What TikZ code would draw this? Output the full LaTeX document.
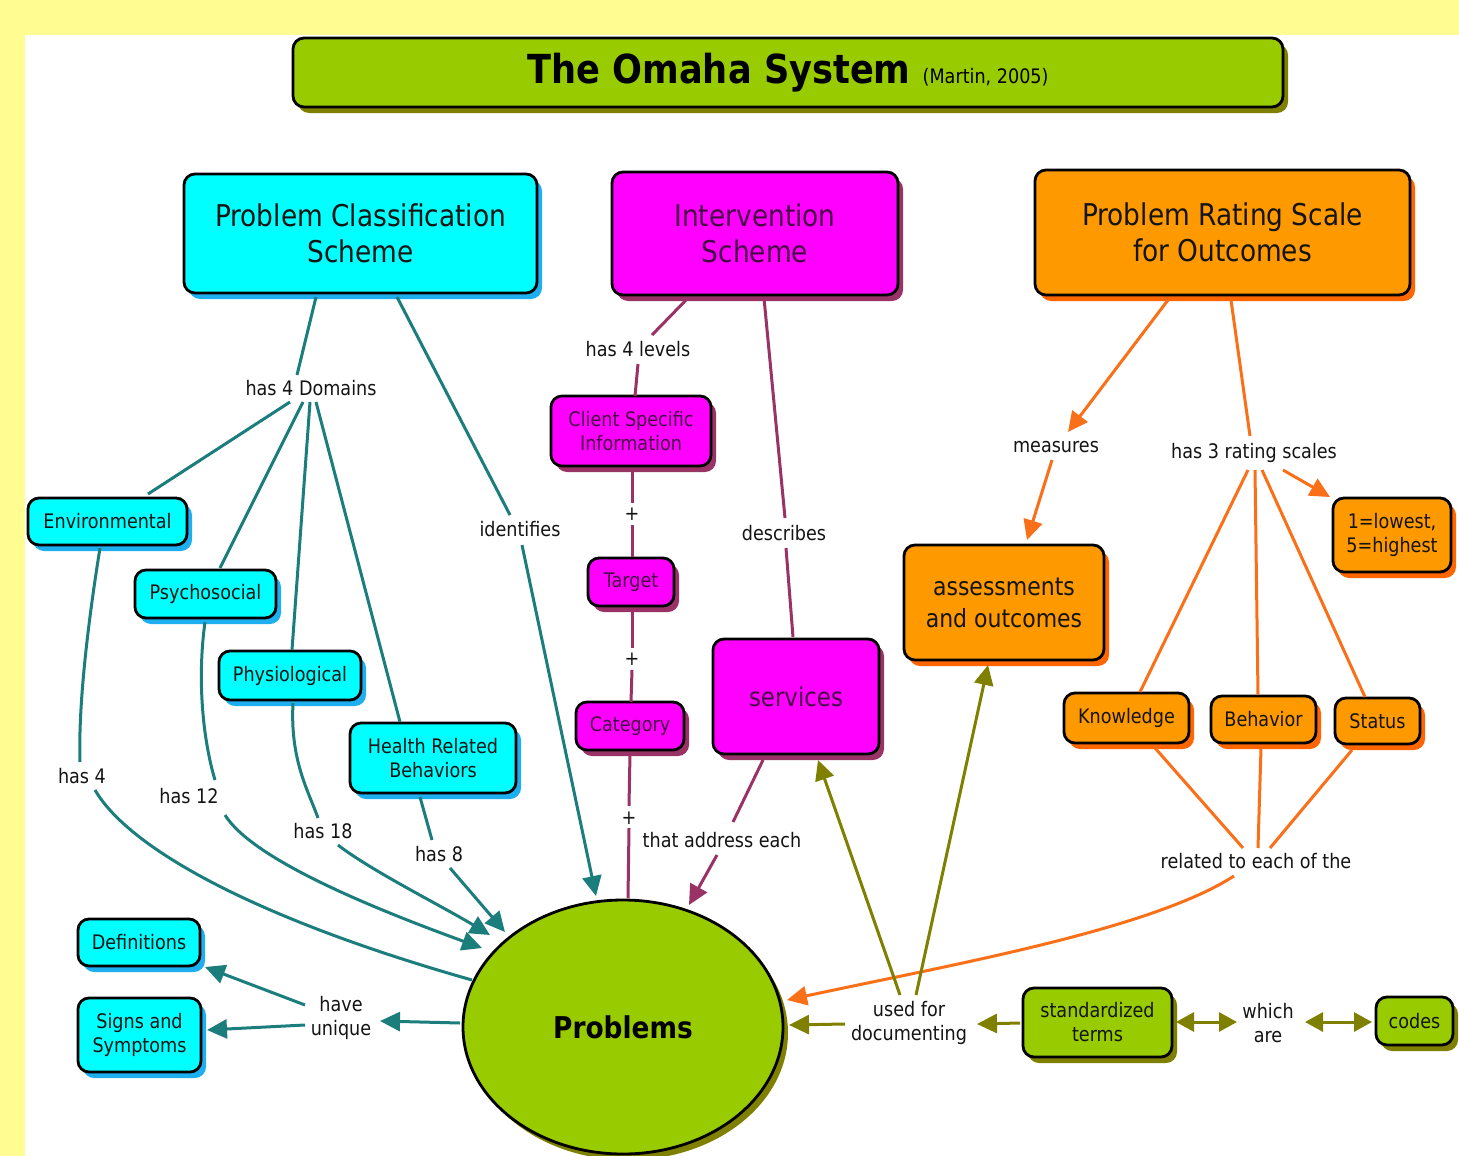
\documentclass[tikz,border=0pt]{standalone}
\usepackage{fontspec}
\setmainfont{DejaVu Sans}[FakeStretch=0.88]
\usetikzlibrary{arrows.meta,shadows,shapes.geometric}
\definecolor{bgyellow}{RGB}{255,252,145}
\definecolor{cyanfill}{RGB}{0,255,255}
\definecolor{cyanshadow}{RGB}{30,175,240}
\definecolor{magfill}{RGB}{255,0,255}
\definecolor{magshadow}{RGB}{153,51,102}
\definecolor{magtext}{RGB}{70,10,70}
\definecolor{orfill}{RGB}{255,153,0}
\definecolor{orshadow}{RGB}{255,102,0}
\definecolor{grfill}{RGB}{153,204,0}
\definecolor{grshadow}{RGB}{128,128,0}
\definecolor{tealline}{RGB}{28,125,125}
\definecolor{magline}{RGB}{153,51,102}
\definecolor{orline}{RGB}{250,112,25}
\definecolor{olline}{RGB}{128,128,0}
\definecolor{boxtext}{RGB}{20,20,20}
\newcommand\fBigT{\fontsize{30}{36}\selectfont}
\newcommand\fSmT{\fontsize{20}{24}\selectfont}
\begin{document}
\begin{tikzpicture}[x=1pt,y=-1pt,
  box/.style={draw=black, line width=2.8pt, rounded corners=11pt, inner sep=0pt, align=center, text=boxtext},
  cbox/.style={box, fill=cyanfill, drop shadow={shadow xshift=5pt, shadow yshift=-6pt, fill=cyanshadow, opacity=1}},
  mbox/.style={box, fill=magfill, text=magtext, drop shadow={shadow xshift=5pt, shadow yshift=-6pt, fill=magshadow, opacity=1}},
  obox/.style={box, fill=orfill, drop shadow={shadow xshift=5pt, shadow yshift=-6pt, fill=orshadow, opacity=1}},
  gbox/.style={box, fill=grfill, drop shadow={shadow xshift=5pt, shadow yshift=-6pt, fill=grshadow, opacity=1}},
  lbl/.style={font=\fSmT, align=center, inner sep=0pt, text=boxtext},
  tl/.style={draw=tealline, line width=3pt},
  ml/.style={draw=magline, line width=3pt},
  orl/.style={draw=orline, line width=3pt},
  gl/.style={draw=olline, line width=3pt},
  arr/.style={-{Triangle[length=20pt,width=19pt]}},
  darr/.style={{Triangle[length=18pt,width=19pt]}-{Triangle[length=18pt,width=19pt]}},
]
\useasboundingbox (0,0) rectangle (1459,1156);
\fill[bgyellow] (0,0) rectangle (1459,1156);
\fill[white] (25,35) rectangle (1459,1156);

% title
\node[gbox, text=black, minimum width=990pt, minimum height=69pt] (title) at (788,72.5)
  {{\bfseries\fontsize{40}{48}\selectfont The Omaha System}\hspace{12pt}{\fontsize{20}{24}\selectfont (Martin, 2005)}};

% main boxes
\node[cbox, font=\fBigT, minimum width=353pt, minimum height=119pt] (pcs) at (360.5,233.5) {Problem Classification\\Scheme};
\node[mbox, font=\fBigT, minimum width=286pt, minimum height=123pt] (is) at (755,233.5) {Intervention\\Scheme};
\node[obox, font=\fBigT, minimum width=375pt, minimum height=125pt] (prs) at (1222.5,232.5) {Problem Rating Scale\\for Outcomes};

% cyan small boxes
\node[cbox, font=\fSmT, minimum width=159pt, minimum height=47pt] (env) at (107.5,521.5) {Environmental};
\node[cbox, font=\fSmT, minimum width=141pt, minimum height=48pt] (psy) at (205.5,594) {Psychosocial};
\node[cbox, font=\fSmT, minimum width=142pt, minimum height=49pt] (phy) at (290,675.5) {Physiological};
\node[cbox, font=\fSmT, minimum width=166pt, minimum height=70pt] (hrb) at (433,758) {Health Related\\Behaviors};
\node[cbox, font=\fSmT, minimum width=122pt, minimum height=47pt] (def) at (139,942.5) {Definitions};
\node[cbox, font=\fSmT, minimum width=123pt, minimum height=74pt] (sig) at (139.5,1035) {Signs and\\Symptoms};

% magenta boxes
\node[mbox, font=\fSmT, minimum width=160pt, minimum height=70pt] (csi) at (631,431) {Client Specific\\Information};
\node[mbox, font=\fSmT, minimum width=86pt, minimum height=48pt] (tgt) at (631,582) {Target};
\node[mbox, font=\fSmT, minimum width=108pt, minimum height=48pt] (cat) at (630,726) {Category};
\node[mbox, font=\fontsize{26}{31}\selectfont, minimum width=166pt, minimum height=115pt] (srv) at (796,696.5) {services};

% orange boxes
\node[obox, font=\fontsize{25}{32}\selectfont, minimum width=200pt, minimum height=115pt] (ass) at (1004,602.5) {assessments\\and outcomes};
\node[obox, font=\fSmT, minimum width=118pt, minimum height=74pt] (low) at (1392,535) {1=lowest,\\5=highest};
\node[obox, font=\fSmT, minimum width=125pt, minimum height=50pt] (kno) at (1126.5,718) {Knowledge};
\node[obox, font=\fSmT, minimum width=105pt, minimum height=47pt] (beh) at (1263.5,719.5) {Behavior};
\node[obox, font=\fSmT, minimum width=85pt, minimum height=46pt] (sta) at (1377.5,721) {Status};

% green
\node[ellipse, draw=black, line width=2.8pt, fill=grfill, minimum width=320pt, minimum height=254pt, inner sep=0pt,
  drop shadow={shadow xshift=5pt, shadow yshift=-6pt, fill=grshadow, opacity=1}] (prob) at (623,1027)
  {\bfseries\fBigT Problems};
\node[gbox, font=\fSmT, minimum width=149pt, minimum height=69pt] (std) at (1097.5,1022.5) {standardized\\terms};
\node[gbox, font=\fSmT, minimum width=77pt, minimum height=48pt] (cod) at (1414.5,1021) {codes};

% labels
\node[lbl] (h4d) at (311,388) {has 4 Domains};
\node[lbl] (idf) at (520,529) {identifies};
\node[lbl] (h4l) at (638,349) {has 4 levels};
\node[lbl] (pa) at (632,514) {+};
\node[lbl] (pb) at (632,659) {+};
\node[lbl] (pc) at (629,818) {+};
\node[lbl] (dsc) at (784,533) {describes};
\node[lbl] (tae) at (722,840) {that address each};
\node[lbl] (mea) at (1056,447) {measures};
\node[lbl] (h3r) at (1254,453) {has 3 rating scales};
\node[lbl] (rel) at (1256,861) {related to each of the};
\node[lbl] (h4) at (82,776) {has 4};
\node[lbl] (h12) at (189,796) {has 12};
\node[lbl] (h18) at (323,831) {has 18};
\node[lbl] (h8) at (439,854) {has 8};
\node[lbl] (hu) at (341,1018) {have\\unique};
\node[lbl] (ufd) at (909,1023) {used for\\documenting};
\node[lbl] (wa) at (1268,1023) {which\\are};

% teal connectors
\draw[tl] ([shift={(-44.5,63.5)}]pcs.center) -- ([shift={(-14,-13)}]h4d.center);
\draw[tl] ([shift={(-21,14)}]h4d.center) -- ([shift={(40.5,-27.5)}]env.center);
\draw[tl] ([shift={(-8,14)}]h4d.center) -- ([shift={(14.5,-26)}]psy.center);
\draw[tl] ([shift={(-1,14)}]h4d.center) -- ([shift={(2,-25.5)}]phy.center);
\draw[tl] ([shift={(5,14)}]h4d.center) -- ([shift={(-33,-36)}]hrb.center);
\draw[tl] ([shift={(36.5,63.5)}]pcs.center) -- ([shift={(-10,-14)}]idf.center);
\draw[tl,arr] ([shift={(2,16)}]idf.center) -- ([shift={(-27,-131)}]prob.center);
\draw[tl] ([shift={(-7.5,26.5)}]env.center) .. controls (90,610) and (78,700) .. ([shift={(-2,-14)}]h4.center);
\draw[tl] ([shift={(13,14)}]h4.center) .. controls (130,850) and (260,920) .. ([shift={(-151,-47)}]prob.center);
\draw[tl] ([shift={(-0.5,28)}]psy.center) .. controls (197,680) and (203,740) .. ([shift={(26,-16)}]h12.center);
\draw[tl,arr] ([shift={(36,19)}]h12.center) .. controls (250,855) and (350,900) .. ([shift={(-141,-79)}]prob.center);
\draw[tl] ([shift={(3,27.5)}]phy.center) .. controls (290,760) and (308,790) .. ([shift={(-5,-13)}]h18.center);
\draw[tl,arr] ([shift={(15,14)}]h18.center) .. controls (370,870) and (440,905) .. ([shift={(-133,-92)}]prob.center);
\draw[tl] ([shift={(-13,39)}]hrb.center) -- ([shift={(-7,-14)}]h8.center);
\draw[tl,arr] ([shift={(11,14)}]h8.center) -- ([shift={(-118,-95)}]prob.center);
\draw[tl,arr] ([shift={(-163,-4)}]prob.center) -- ([shift={(39,3)}]hu.center);
\draw[tl,arr] ([shift={(-36,-13)}]hu.center) -- ([shift={(66,24.5)}]def.center);
\draw[tl,arr] ([shift={(-36,7)}]hu.center) -- ([shift={(67.5,-5)}]sig.center);

% magenta connectors
\draw[ml] ([shift={(-67,64.5)}]is.center) -- ([shift={(14,-14)}]h4l.center);
\draw[ml] ([shift={(0,15)}]h4l.center) -- ([shift={(4,-35)}]csi.center);
\draw[ml] ([shift={(1,39)}]csi.center) -- ([shift={(0,-11)}]pa.center);
\draw[ml] ([shift={(0,11)}]pa.center) -- ([shift={(1,-25)}]tgt.center);
\draw[ml] ([shift={(1,26)}]tgt.center) -- ([shift={(0,-11)}]pb.center);
\draw[ml] ([shift={(0,11)}]pb.center) -- ([shift={(1,-24)}]cat.center);
\draw[ml] ([shift={(0,28)}]cat.center) -- ([shift={(0,-12)}]pc.center);
\draw[ml] ([shift={(0,10)}]pc.center) -- ([shift={(5,-129)}]prob.center);
\draw[ml] ([shift={(9,64.5)}]is.center) -- ([shift={(1,-15)}]dsc.center);
\draw[ml] ([shift={(2,15)}]dsc.center) -- ([shift={(-3,-59.5)}]srv.center);
\draw[ml] ([shift={(-33,63.5)}]srv.center) -- ([shift={(11,-18)}]tae.center);
\draw[ml,arr] ([shift={(-5,15)}]tae.center) -- ([shift={(66,-122)}]prob.center);

% orange connectors
\draw[orl,arr] ([shift={(-54.5,67.5)}]prs.center) -- ([shift={(12,-15)}]mea.center);
\draw[orl,arr] ([shift={(-4,13)}]mea.center) -- ([shift={(23,-62.5)}]ass.center);
\draw[orl] ([shift={(8.5,67.5)}]prs.center) -- ([shift={(-4,-17)}]h3r.center);
\draw[orl] ([shift={(-6,17)}]h3r.center) -- ([shift={(13.5,-26)}]kno.center);
\draw[orl] ([shift={(1,17)}]h3r.center) -- ([shift={(-5.5,-24.5)}]beh.center);
\draw[orl] ([shift={(8,17)}]h3r.center) -- ([shift={(-12.5,-24)}]sta.center);
\draw[orl,arr] ([shift={(29,17)}]h3r.center) -- ([shift={(-62,-38)}]low.center);
\draw[orl] ([shift={(28.5,30)}]kno.center) -- ([shift={(-13,-13)}]rel.center);
\draw[orl] ([shift={(-2.5,28.5)}]beh.center) -- ([shift={(2,-13)}]rel.center);
\draw[orl] ([shift={(-25.5,29)}]sta.center) -- ([shift={(14,-13)}]rel.center);
\draw[orl,arr] ([shift={(-22,15)}]rel.center) .. controls (1150,930) and (950,965) .. ([shift={(164,-27)}]prob.center);

% olive connectors
\draw[gl,arr] ([shift={(-77.5,0.5)}]std.center) -- ([shift={(68,1)}]ufd.center);
\draw[gl,arr] ([shift={(-64,1)}]ufd.center) -- ([shift={(166,-2)}]prob.center);
\draw[gl,arr] ([shift={(-9,-28)}]ufd.center) -- ([shift={(22,63.5)}]srv.center);
\draw[gl,arr] ([shift={(7,-28)}]ufd.center) -- ([shift={(-16,62.5)}]ass.center);
\draw[gl,darr] ([shift={(78.5,-0.5)}]std.center) -- ([shift={(-31,-1)}]wa.center);
\draw[gl,darr] ([shift={(37,-1)}]wa.center) -- ([shift={(-42.5,1)}]cod.center);
\end{tikzpicture}
\end{document}
